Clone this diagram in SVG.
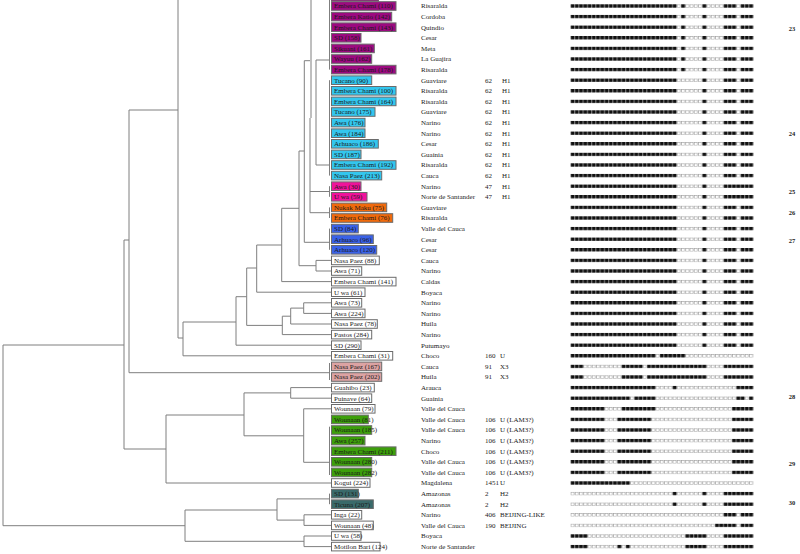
<svg xmlns="http://www.w3.org/2000/svg" width="800" height="554" viewBox="0 0 800 554">
<style>
.bg{fill:#fff}
.t path{fill:none;stroke:#7f7f7f;stroke-width:1}
.bx{stroke:#6b6b6b;stroke-width:1}
.mg{fill:#9c0a80}.cy{fill:#33c6ee}.pk{fill:#f0139b}.or{fill:#f06a0c}.bl{fill:#3a62e8}.lp{fill:#dca3a3}.gr{fill:#3d9f0b}.tl{fill:#3a6a6a}.wh{fill:#fff}
.lb{font-family:"Liberation Serif",serif;font-size:7px;fill:#1a1a1a}
.rg{font-family:"Liberation Serif",serif;font-size:7px;fill:#222}
.nm{font-family:"Liberation Serif",serif;font-size:6.5px;fill:#222;font-weight:bold}
.w{fill:url(#wp)}.b{fill:url(#bp)}
</style>
<defs>
<pattern id="wp" patternUnits="userSpaceOnUse" x="0" y="4.2" width="4.25" height="10.6"><rect x="0.5" y="0.3" width="3" height="3" fill="#fff" stroke="#9a9a9a" stroke-width="0.6"/></pattern>
<pattern id="bp" patternUnits="userSpaceOnUse" x="0" y="4.2" width="4.25" height="10.6"><rect x="0.2" y="0" width="3.6" height="3.6" fill="#111"/></pattern>
</defs>
<rect class="bg" width="800" height="554"/>
<g id="connectors" class="t">
<path d="M3,345V525.7M3,345H124M3,525.7H185"/>
<path d="M124,240V449M124,240H129M124,449H166"/>
<path d="M129,110V372.7M129,110H178M129,372.7H329.5"/>
<path d="M178,0V338M178,338H183"/>
<path d="M183,322V355.8M183,322H236M183,355.8H331"/>
<path d="M236,296.7V345.2M236,296.7H246.7M236,345.2H331"/>
<path d="M246.7,268V325.4M246.7,268H256.7M246.7,325.4H282.3"/>
<path d="M282.3,316.2V334.6M282.3,316.2H290.7M282.3,334.6H331"/>
<path d="M290.7,308.1V324M290.7,308.1H303.7M290.7,324H331"/>
<path d="M303.7,302.8V313.4M303.7,302.8H331M303.7,313.4H331"/>
<path d="M256.7,245V292.2M256.7,245H281.7M256.7,292.2H331"/>
<path d="M281.7,208.3V281.6M281.7,208.3H299M281.7,281.6H331"/>
<path d="M299,151V265.7M299,151H304.3M299,265.7H316"/>
<path d="M316,260.4V271M316,260.4H331M316,271H331"/>
<path d="M304.3,60.7V242.3M304.3,242.3H329.5M304.3,60.7H310"/>
<path d="M329.5,228.6V249.8"/>
<path d="M311,0V118M310,118V212.7M310,191.5H329.5M310,212.7H329.5"/>
<path d="M316,60V165M316,60H329.5M316,165H329.5"/>
<path d="M329.5,-5V69.6M329.5,80.2V175.6M329.5,186.2V196.8M329.5,207.4V218"/>
<path d="M329.5,363V380"/>
<path d="M166,415V483M166,415H244M166,483H331"/>
<path d="M244,392.9V435.8M244,392.9H290.7M244,435.8H303.7"/>
<path d="M290.7,387.6V398.2M290.7,387.6H331M290.7,398.2H331"/>
<path d="M303.7,408.8V462.3M303.7,408.8H331M303.7,462.3H329.5M329.5,426.7V475"/>
<path d="M185,510V541.3M185,510H277M185,541.3H304"/>
<path d="M277,498.9V520.1M277,498.9H329.5M277,520.1H304M329.5,493.6V504.2"/>
<path d="M304,514.8V525.4M304,514.8H331M304,525.4H331"/>
<path d="M304,536V546.6M304,536H331M304,546.6H331"/>
</g>
<g id="r0"><rect class="bx mg" x="331.5" y="-7.6" width="47" height="8.6"/></g>
<g id="r1"><rect class="bx mg" x="331.5" y="1.7" width="64.5" height="8.6"/><text class="lb" x="334" y="8.4">Embera Chami (110)</text><text class="rg" x="421" y="8.4">Risaralda</text><g transform="translate(570.6 0)"><rect class="w" x="0" y="4.2" width="182.75" height="3.6"/><rect class="b" x="0" y="4.2" width="106.25" height="3.6"/><rect class="b" x="110.5" y="4.2" width="4.25" height="3.6"/><rect class="b" x="131.75" y="4.2" width="4.25" height="3.6"/><rect class="b" x="153" y="4.2" width="12.75" height="3.6"/><rect class="b" x="170" y="4.2" width="12.75" height="3.6"/></g></g>
<g id="r2"><rect class="bx mg" x="331.5" y="12.3" width="60.2" height="8.6"/><text class="lb" x="334" y="19">Embera Katio (142)</text><text class="rg" x="421" y="19">Cordoba</text><g transform="translate(570.6 10.6)"><rect class="w" x="0" y="4.2" width="182.75" height="3.6"/><rect class="b" x="0" y="4.2" width="106.25" height="3.6"/><rect class="b" x="110.5" y="4.2" width="4.25" height="3.6"/><rect class="b" x="131.75" y="4.2" width="4.25" height="3.6"/><rect class="b" x="153" y="4.2" width="12.75" height="3.6"/><rect class="b" x="170" y="4.2" width="12.75" height="3.6"/></g></g>
<g id="r3"><rect class="bx mg" x="331.5" y="22.9" width="64.5" height="8.6"/><text class="lb" x="334" y="29.6">Embera Chami (143)</text><text class="rg" x="421" y="29.6">Quindio</text><g transform="translate(570.6 21.2)"><rect class="w" x="0" y="4.2" width="182.75" height="3.6"/><rect class="b" x="0" y="4.2" width="106.25" height="3.6"/><rect class="b" x="110.5" y="4.2" width="4.25" height="3.6"/><rect class="b" x="131.75" y="4.2" width="4.25" height="3.6"/><rect class="b" x="153" y="4.2" width="12.75" height="3.6"/><rect class="b" x="170" y="4.2" width="12.75" height="3.6"/></g></g>
<g id="r4"><rect class="bx mg" x="331.5" y="33.5" width="29.5" height="8.6"/><text class="lb" x="334" y="40.2">SD (158)</text><text class="rg" x="421" y="40.2">Cesar</text><g transform="translate(570.6 31.8)"><rect class="w" x="0" y="4.2" width="182.75" height="3.6"/><rect class="b" x="0" y="4.2" width="106.25" height="3.6"/><rect class="b" x="110.5" y="4.2" width="4.25" height="3.6"/><rect class="b" x="131.75" y="4.2" width="4.25" height="3.6"/><rect class="b" x="153" y="4.2" width="12.75" height="3.6"/><rect class="b" x="170" y="4.2" width="12.75" height="3.6"/></g></g>
<g id="r5"><rect class="bx mg" x="331.5" y="44.1" width="42.8" height="8.6"/><text class="lb" x="334" y="50.8">Sikuani (161)</text><text class="rg" x="421" y="50.8">Meta</text><g transform="translate(570.6 42.4)"><rect class="w" x="0" y="4.2" width="182.75" height="3.6"/><rect class="b" x="0" y="4.2" width="106.25" height="3.6"/><rect class="b" x="110.5" y="4.2" width="4.25" height="3.6"/><rect class="b" x="131.75" y="4.2" width="4.25" height="3.6"/><rect class="b" x="153" y="4.2" width="12.75" height="3.6"/><rect class="b" x="170" y="4.2" width="12.75" height="3.6"/></g></g>
<g id="r6"><rect class="bx mg" x="331.5" y="54.7" width="40.2" height="8.6"/><text class="lb" x="334" y="61.4">Wayuu (162)</text><text class="rg" x="421" y="61.4">La Guajira</text><g transform="translate(570.6 53)"><rect class="w" x="0" y="4.2" width="182.75" height="3.6"/><rect class="b" x="0" y="4.2" width="106.25" height="3.6"/><rect class="b" x="110.5" y="4.2" width="4.25" height="3.6"/><rect class="b" x="131.75" y="4.2" width="4.25" height="3.6"/><rect class="b" x="153" y="4.2" width="12.75" height="3.6"/><rect class="b" x="170" y="4.2" width="12.75" height="3.6"/></g></g>
<g id="r7"><rect class="bx mg" x="331.5" y="65.3" width="64.5" height="8.6"/><text class="lb" x="334" y="72">Embera Chami (178)</text><text class="rg" x="421" y="72">Risaralda</text><g transform="translate(570.6 63.6)"><rect class="w" x="0" y="4.2" width="182.75" height="3.6"/><rect class="b" x="0" y="4.2" width="106.25" height="3.6"/><rect class="b" x="110.5" y="4.2" width="4.25" height="3.6"/><rect class="b" x="131.75" y="4.2" width="4.25" height="3.6"/><rect class="b" x="153" y="4.2" width="12.75" height="3.6"/><rect class="b" x="170" y="4.2" width="12.75" height="3.6"/></g></g>
<g id="r8"><rect class="bx cy" x="331.5" y="75.9" width="40.2" height="8.6"/><text class="lb" x="334" y="82.6">Tucano (90)</text><text class="rg" x="421" y="82.6">Guaviare</text><text class="rg" x="485" y="82.6">62</text><text class="rg" x="502" y="82.6">H1</text><g transform="translate(570.6 74.2)"><rect class="w" x="0" y="4.2" width="182.75" height="3.6"/><rect class="b" x="0" y="4.2" width="106.25" height="3.6"/><rect class="b" x="131.75" y="4.2" width="4.25" height="3.6"/><rect class="b" x="153" y="4.2" width="12.75" height="3.6"/><rect class="b" x="170" y="4.2" width="12.75" height="3.6"/></g></g>
<g id="r9"><rect class="bx cy" x="331.5" y="86.5" width="64.5" height="8.6"/><text class="lb" x="334" y="93.2">Embera Chami (100)</text><text class="rg" x="421" y="93.2">Risaralda</text><text class="rg" x="485" y="93.2">62</text><text class="rg" x="502" y="93.2">H1</text><g transform="translate(570.6 84.8)"><rect class="w" x="0" y="4.2" width="182.75" height="3.6"/><rect class="b" x="0" y="4.2" width="106.25" height="3.6"/><rect class="b" x="131.75" y="4.2" width="4.25" height="3.6"/><rect class="b" x="153" y="4.2" width="12.75" height="3.6"/><rect class="b" x="170" y="4.2" width="12.75" height="3.6"/></g></g>
<g id="r10"><rect class="bx cy" x="331.5" y="97.1" width="64.5" height="8.6"/><text class="lb" x="334" y="103.8">Embera Chami (164)</text><text class="rg" x="421" y="103.8">Risaralda</text><text class="rg" x="485" y="103.8">62</text><text class="rg" x="502" y="103.8">H1</text><g transform="translate(570.6 95.4)"><rect class="w" x="0" y="4.2" width="182.75" height="3.6"/><rect class="b" x="0" y="4.2" width="106.25" height="3.6"/><rect class="b" x="131.75" y="4.2" width="4.25" height="3.6"/><rect class="b" x="153" y="4.2" width="12.75" height="3.6"/><rect class="b" x="170" y="4.2" width="12.75" height="3.6"/></g></g>
<g id="r11"><rect class="bx cy" x="331.5" y="107.7" width="43.5" height="8.6"/><text class="lb" x="334" y="114.4">Tucano (175)</text><text class="rg" x="421" y="114.4">Guaviare</text><text class="rg" x="485" y="114.4">62</text><text class="rg" x="502" y="114.4">H1</text><g transform="translate(570.6 106)"><rect class="w" x="0" y="4.2" width="182.75" height="3.6"/><rect class="b" x="0" y="4.2" width="106.25" height="3.6"/><rect class="b" x="131.75" y="4.2" width="4.25" height="3.6"/><rect class="b" x="153" y="4.2" width="12.75" height="3.6"/><rect class="b" x="170" y="4.2" width="12.75" height="3.6"/></g></g>
<g id="r12"><rect class="bx cy" x="331.5" y="118.3" width="33.5" height="8.6"/><text class="lb" x="334" y="125">Awa (176)</text><text class="rg" x="421" y="125">Narino</text><text class="rg" x="485" y="125">62</text><text class="rg" x="502" y="125">H1</text><g transform="translate(570.6 116.6)"><rect class="w" x="0" y="4.2" width="182.75" height="3.6"/><rect class="b" x="0" y="4.2" width="106.25" height="3.6"/><rect class="b" x="131.75" y="4.2" width="4.25" height="3.6"/><rect class="b" x="153" y="4.2" width="12.75" height="3.6"/><rect class="b" x="170" y="4.2" width="12.75" height="3.6"/></g></g>
<g id="r13"><rect class="bx cy" x="331.5" y="128.9" width="33.5" height="8.6"/><text class="lb" x="334" y="135.6">Awa (184)</text><text class="rg" x="421" y="135.6">Narino</text><text class="rg" x="485" y="135.6">62</text><text class="rg" x="502" y="135.6">H1</text><g transform="translate(570.6 127.2)"><rect class="w" x="0" y="4.2" width="182.75" height="3.6"/><rect class="b" x="0" y="4.2" width="106.25" height="3.6"/><rect class="b" x="131.75" y="4.2" width="4.25" height="3.6"/><rect class="b" x="153" y="4.2" width="12.75" height="3.6"/><rect class="b" x="170" y="4.2" width="12.75" height="3.6"/></g></g>
<g id="r14"><rect class="bx cy" x="331.5" y="139.5" width="46.8" height="8.6"/><text class="lb" x="334" y="146.2">Arhuaco (186)</text><text class="rg" x="421" y="146.2">Cesar</text><text class="rg" x="485" y="146.2">62</text><text class="rg" x="502" y="146.2">H1</text><g transform="translate(570.6 137.8)"><rect class="w" x="0" y="4.2" width="182.75" height="3.6"/><rect class="b" x="0" y="4.2" width="106.25" height="3.6"/><rect class="b" x="131.75" y="4.2" width="4.25" height="3.6"/><rect class="b" x="153" y="4.2" width="12.75" height="3.6"/><rect class="b" x="170" y="4.2" width="12.75" height="3.6"/></g></g>
<g id="r15"><rect class="bx cy" x="331.5" y="150.1" width="29.5" height="8.6"/><text class="lb" x="334" y="156.8">SD (187)</text><text class="rg" x="421" y="156.8">Guainia</text><text class="rg" x="485" y="156.8">62</text><text class="rg" x="502" y="156.8">H1</text><g transform="translate(570.6 148.4)"><rect class="w" x="0" y="4.2" width="182.75" height="3.6"/><rect class="b" x="0" y="4.2" width="106.25" height="3.6"/><rect class="b" x="131.75" y="4.2" width="4.25" height="3.6"/><rect class="b" x="153" y="4.2" width="12.75" height="3.6"/><rect class="b" x="170" y="4.2" width="12.75" height="3.6"/></g></g>
<g id="r16"><rect class="bx cy" x="331.5" y="160.7" width="64.5" height="8.6"/><text class="lb" x="334" y="167.4">Embera Chami (192)</text><text class="rg" x="421" y="167.4">Risaralda</text><text class="rg" x="485" y="167.4">62</text><text class="rg" x="502" y="167.4">H1</text><g transform="translate(570.6 159)"><rect class="w" x="0" y="4.2" width="182.75" height="3.6"/><rect class="b" x="0" y="4.2" width="106.25" height="3.6"/><rect class="b" x="131.75" y="4.2" width="4.25" height="3.6"/><rect class="b" x="153" y="4.2" width="12.75" height="3.6"/><rect class="b" x="170" y="4.2" width="12.75" height="3.6"/></g></g>
<g id="r17"><rect class="bx cy" x="331.5" y="171.3" width="50.2" height="8.6"/><text class="lb" x="334" y="178">Nasa Paez (213)</text><text class="rg" x="421" y="178">Cauca</text><text class="rg" x="485" y="178">62</text><text class="rg" x="502" y="178">H1</text><g transform="translate(570.6 169.6)"><rect class="w" x="0" y="4.2" width="182.75" height="3.6"/><rect class="b" x="0" y="4.2" width="106.25" height="3.6"/><rect class="b" x="131.75" y="4.2" width="4.25" height="3.6"/><rect class="b" x="153" y="4.2" width="12.75" height="3.6"/><rect class="b" x="170" y="4.2" width="12.75" height="3.6"/></g></g>
<g id="r18"><rect class="bx pk" x="331.5" y="181.9" width="29.5" height="8.6"/><text class="lb" x="334" y="188.6">Awa (30)</text><text class="rg" x="421" y="188.6">Narino</text><text class="rg" x="485" y="188.6">47</text><text class="rg" x="502" y="188.6">H1</text><g transform="translate(570.6 180.2)"><rect class="w" x="0" y="4.2" width="182.75" height="3.6"/><rect class="b" x="0" y="4.2" width="106.25" height="3.6"/><rect class="b" x="131.75" y="4.2" width="4.25" height="3.6"/><rect class="b" x="153" y="4.2" width="29.75" height="3.6"/></g></g>
<g id="r19"><rect class="bx pk" x="331.5" y="192.5" width="35.5" height="8.6"/><text class="lb" x="334" y="199.2">U wa (59)</text><text class="rg" x="421" y="199.2">Norte de Santander</text><text class="rg" x="485" y="199.2">47</text><text class="rg" x="502" y="199.2">H1</text><g transform="translate(570.6 190.8)"><rect class="w" x="0" y="4.2" width="182.75" height="3.6"/><rect class="b" x="0" y="4.2" width="106.25" height="3.6"/><rect class="b" x="131.75" y="4.2" width="4.25" height="3.6"/><rect class="b" x="153" y="4.2" width="29.75" height="3.6"/></g></g>
<g id="r20"><rect class="bx or" x="331.5" y="203.1" width="55.2" height="8.6"/><text class="lb" x="334" y="209.8">Nukak Maku (75)</text><text class="rg" x="421" y="209.8">Guaviare</text><g transform="translate(570.6 201.4)"><rect class="w" x="0" y="4.2" width="182.75" height="3.6"/><rect class="b" x="0" y="4.2" width="106.25" height="3.6"/><rect class="b" x="131.75" y="4.2" width="4.25" height="3.6"/><rect class="b" x="153" y="4.2" width="12.75" height="3.6"/><rect class="b" x="170" y="4.2" width="12.75" height="3.6"/></g></g>
<g id="r21"><rect class="bx or" x="331.5" y="213.7" width="61.2" height="8.6"/><text class="lb" x="334" y="220.4">Embera Chami (76)</text><text class="rg" x="421" y="220.4">Risaralda</text><g transform="translate(570.6 212)"><rect class="w" x="0" y="4.2" width="182.75" height="3.6"/><rect class="b" x="0" y="4.2" width="106.25" height="3.6"/><rect class="b" x="131.75" y="4.2" width="4.25" height="3.6"/><rect class="b" x="153" y="4.2" width="12.75" height="3.6"/><rect class="b" x="170" y="4.2" width="12.75" height="3.6"/></g></g>
<g id="r22"><rect class="bx bl" x="331.5" y="224.3" width="26.8" height="8.6"/><text class="lb" x="334" y="231">SD (84)</text><text class="rg" x="421" y="231">Valle del Cauca</text><g transform="translate(570.6 222.6)"><rect class="w" x="0" y="4.2" width="182.75" height="3.6"/><rect class="b" x="0" y="4.2" width="106.25" height="3.6"/><rect class="b" x="131.75" y="4.2" width="4.25" height="3.6"/><rect class="b" x="153" y="4.2" width="12.75" height="3.6"/><rect class="b" x="170" y="4.2" width="12.75" height="3.6"/></g></g>
<g id="r23"><rect class="bx bl" x="331.5" y="234.9" width="41.8" height="8.6"/><text class="lb" x="334" y="241.6">Arhuaco (96)</text><text class="rg" x="421" y="241.6">Cesar</text><g transform="translate(570.6 233.2)"><rect class="w" x="0" y="4.2" width="182.75" height="3.6"/><rect class="b" x="0" y="4.2" width="106.25" height="3.6"/><rect class="b" x="131.75" y="4.2" width="4.25" height="3.6"/><rect class="b" x="153" y="4.2" width="12.75" height="3.6"/><rect class="b" x="170" y="4.2" width="12.75" height="3.6"/></g></g>
<g id="r24"><rect class="bx bl" x="331.5" y="245.5" width="45.2" height="8.6"/><text class="lb" x="334" y="252.2">Arhuaco (120)</text><text class="rg" x="421" y="252.2">Cesar</text><g transform="translate(570.6 243.8)"><rect class="w" x="0" y="4.2" width="182.75" height="3.6"/><rect class="b" x="0" y="4.2" width="106.25" height="3.6"/><rect class="b" x="131.75" y="4.2" width="4.25" height="3.6"/><rect class="b" x="153" y="4.2" width="12.75" height="3.6"/><rect class="b" x="170" y="4.2" width="12.75" height="3.6"/></g></g>
<g id="r25"><rect class="bx wh" x="331.5" y="256.1" width="47.8" height="8.6"/><text class="lb" x="334" y="262.8">Nasa Paez (88)</text><text class="rg" x="421" y="262.8">Cauca</text><g transform="translate(570.6 254.4)"><rect class="w" x="0" y="4.2" width="182.75" height="3.6"/><rect class="b" x="0" y="4.2" width="106.25" height="3.6"/><rect class="b" x="131.75" y="4.2" width="4.25" height="3.6"/><rect class="b" x="153" y="4.2" width="12.75" height="3.6"/><rect class="b" x="170" y="4.2" width="12.75" height="3.6"/></g></g>
<g id="r26"><rect class="bx wh" x="331.5" y="266.7" width="30.2" height="8.6"/><text class="lb" x="334" y="273.4">Awa (71)</text><text class="rg" x="421" y="273.4">Narino</text><g transform="translate(570.6 265)"><rect class="w" x="0" y="4.2" width="182.75" height="3.6"/><rect class="b" x="0" y="4.2" width="106.25" height="3.6"/><rect class="b" x="131.75" y="4.2" width="4.25" height="3.6"/><rect class="b" x="153" y="4.2" width="12.75" height="3.6"/><rect class="b" x="170" y="4.2" width="12.75" height="3.6"/></g></g>
<g id="r27"><rect class="bx wh" x="331.5" y="277.3" width="64.5" height="8.6"/><text class="lb" x="334" y="284">Embera Chami (141)</text><text class="rg" x="421" y="284">Caldas</text><g transform="translate(570.6 275.6)"><rect class="w" x="0" y="4.2" width="182.75" height="3.6"/><rect class="b" x="0" y="4.2" width="106.25" height="3.6"/><rect class="b" x="131.75" y="4.2" width="4.25" height="3.6"/><rect class="b" x="153" y="4.2" width="12.75" height="3.6"/><rect class="b" x="170" y="4.2" width="12.75" height="3.6"/></g></g>
<g id="r28"><rect class="bx wh" x="331.5" y="287.9" width="33.5" height="8.6"/><text class="lb" x="334" y="294.6">U wa (61)</text><text class="rg" x="421" y="294.6">Boyaca</text><g transform="translate(570.6 286.2)"><rect class="w" x="0" y="4.2" width="182.75" height="3.6"/><rect class="b" x="0" y="4.2" width="106.25" height="3.6"/><rect class="b" x="131.75" y="4.2" width="4.25" height="3.6"/><rect class="b" x="153" y="4.2" width="12.75" height="3.6"/><rect class="b" x="170" y="4.2" width="12.75" height="3.6"/></g></g>
<g id="r29"><rect class="bx wh" x="331.5" y="298.5" width="30.2" height="8.6"/><text class="lb" x="334" y="305.2">Awa (73)</text><text class="rg" x="421" y="305.2">Narino</text><g transform="translate(570.6 296.8)"><rect class="w" x="0" y="4.2" width="182.75" height="3.6"/><rect class="b" x="0" y="4.2" width="106.25" height="3.6"/><rect class="b" x="131.75" y="4.2" width="4.25" height="3.6"/><rect class="b" x="153" y="4.2" width="12.75" height="3.6"/><rect class="b" x="170" y="4.2" width="12.75" height="3.6"/></g></g>
<g id="r30"><rect class="bx wh" x="331.5" y="309.1" width="33.5" height="8.6"/><text class="lb" x="334" y="315.8">Awa (224)</text><text class="rg" x="421" y="315.8">Narino</text><g transform="translate(570.6 307.4)"><rect class="w" x="0" y="4.2" width="182.75" height="3.6"/><rect class="b" x="0" y="4.2" width="106.25" height="3.6"/><rect class="b" x="131.75" y="4.2" width="4.25" height="3.6"/><rect class="b" x="153" y="4.2" width="12.75" height="3.6"/><rect class="b" x="170" y="4.2" width="12.75" height="3.6"/></g></g>
<g id="r31"><rect class="bx wh" x="331.5" y="319.7" width="45.8" height="8.6"/><text class="lb" x="334" y="326.4">Nasa Paez (78)</text><text class="rg" x="421" y="326.4">Huila</text><g transform="translate(570.6 318)"><rect class="w" x="0" y="4.2" width="182.75" height="3.6"/><rect class="b" x="0" y="4.2" width="106.25" height="3.6"/><rect class="b" x="131.75" y="4.2" width="4.25" height="3.6"/><rect class="b" x="153" y="4.2" width="12.75" height="3.6"/><rect class="b" x="170" y="4.2" width="12.75" height="3.6"/></g></g>
<g id="r32"><rect class="bx wh" x="331.5" y="330.3" width="40.2" height="8.6"/><text class="lb" x="334" y="337">Pastos (284)</text><text class="rg" x="421" y="337">Narino</text><g transform="translate(570.6 328.6)"><rect class="w" x="0" y="4.2" width="182.75" height="3.6"/><rect class="b" x="0" y="4.2" width="106.25" height="3.6"/><rect class="b" x="131.75" y="4.2" width="4.25" height="3.6"/><rect class="b" x="153" y="4.2" width="12.75" height="3.6"/><rect class="b" x="170" y="4.2" width="12.75" height="3.6"/></g></g>
<g id="r33"><rect class="bx wh" x="331.5" y="340.9" width="29.5" height="8.6"/><text class="lb" x="334" y="347.6">SD (290)</text><text class="rg" x="421" y="347.6">Putumayo</text><g transform="translate(570.6 339.2)"><rect class="w" x="0" y="4.2" width="182.75" height="3.6"/><rect class="b" x="0" y="4.2" width="106.25" height="3.6"/><rect class="b" x="131.75" y="4.2" width="4.25" height="3.6"/><rect class="b" x="153" y="4.2" width="12.75" height="3.6"/><rect class="b" x="170" y="4.2" width="12.75" height="3.6"/></g></g>
<g id="r34"><rect class="bx wh" x="331.5" y="351.5" width="61.2" height="8.6"/><text class="lb" x="334" y="358.2">Embera Chami (31)</text><text class="rg" x="421" y="358.2">Choco</text><text class="rg" x="485" y="358.2">160</text><text class="rg" x="500" y="358.2">U</text><g transform="translate(570.6 349.8)"><rect class="w" x="0" y="4.2" width="182.75" height="3.6"/><rect class="b" x="0" y="4.2" width="85" height="3.6"/><rect class="b" x="89.25" y="4.2" width="25.5" height="3.6"/></g></g>
<g id="r35"><rect class="bx lp" x="331.5" y="362.1" width="50.2" height="8.6"/><text class="lb" x="334" y="368.8">Nasa Paez (167)</text><text class="rg" x="421" y="368.8">Cauca</text><text class="rg" x="485" y="368.8">91</text><text class="rg" x="500" y="368.8">X3</text><g transform="translate(570.6 360.4)"><rect class="w" x="0" y="4.2" width="182.75" height="3.6"/><rect class="b" x="0" y="4.2" width="12.75" height="3.6"/><rect class="b" x="51" y="4.2" width="21.25" height="3.6"/><rect class="b" x="76.5" y="4.2" width="59.5" height="3.6"/><rect class="b" x="153" y="4.2" width="29.75" height="3.6"/></g></g>
<g id="r36"><rect class="bx lp" x="331.5" y="372.7" width="50.2" height="8.6"/><text class="lb" x="334" y="379.4">Nasa Paez (202)</text><text class="rg" x="421" y="379.4">Huila</text><text class="rg" x="485" y="379.4">91</text><text class="rg" x="500" y="379.4">X3</text><g transform="translate(570.6 371)"><rect class="w" x="0" y="4.2" width="182.75" height="3.6"/><rect class="b" x="0" y="4.2" width="12.75" height="3.6"/><rect class="b" x="51" y="4.2" width="21.25" height="3.6"/><rect class="b" x="76.5" y="4.2" width="59.5" height="3.6"/><rect class="b" x="153" y="4.2" width="29.75" height="3.6"/></g></g>
<g id="r37"><rect class="bx wh" x="331.5" y="383.3" width="42.8" height="8.6"/><text class="lb" x="334" y="390">Guahibo (23)</text><text class="rg" x="421" y="390">Arauca</text><g transform="translate(570.6 381.6)"><rect class="w" x="0" y="4.2" width="182.75" height="3.6"/><rect class="b" x="0" y="4.2" width="85" height="3.6"/><rect class="b" x="102" y="4.2" width="4.25" height="3.6"/><rect class="b" x="165.75" y="4.2" width="17" height="3.6"/></g></g>
<g id="r38"><rect class="bx wh" x="331.5" y="393.9" width="40.2" height="8.6"/><text class="lb" x="334" y="400.6">Puinave (64)</text><text class="rg" x="421" y="400.6">Guainia</text><g transform="translate(570.6 392.2)"><rect class="w" x="0" y="4.2" width="182.75" height="3.6"/><rect class="b" x="0" y="4.2" width="59.5" height="3.6"/><rect class="b" x="63.75" y="4.2" width="21.25" height="3.6"/><rect class="b" x="165.75" y="4.2" width="8.5" height="3.6"/><rect class="b" x="178.5" y="4.2" width="4.25" height="3.6"/></g></g>
<g id="r39"><rect class="bx wh" x="331.5" y="404.5" width="43.5" height="8.6"/><text class="lb" x="334" y="411.2">Wounaan (79)</text><text class="rg" x="421" y="411.2">Valle del Cauca</text><g transform="translate(570.6 402.8)"><rect class="w" x="0" y="4.2" width="182.75" height="3.6"/><rect class="b" x="0" y="4.2" width="34" height="3.6"/><rect class="b" x="51" y="4.2" width="34" height="3.6"/><rect class="b" x="161.5" y="4.2" width="21.25" height="3.6"/></g></g>
<g id="r40"><rect class="bx gr" x="331.5" y="415.1" width="36.8" height="8.6"/><text class="lb" x="334" y="421.8">Wounaan (81)</text><text class="rg" x="421" y="421.8">Valle del Cauca</text><text class="rg" x="485" y="421.8">106</text><text class="rg" x="500" y="421.8">U (LAM3?)</text><g transform="translate(570.6 413.4)"><rect class="w" x="0" y="4.2" width="182.75" height="3.6"/><rect class="b" x="0" y="4.2" width="34" height="3.6"/><rect class="b" x="46.75" y="4.2" width="34" height="3.6"/><rect class="b" x="161.5" y="4.2" width="21.25" height="3.6"/></g></g>
<g id="r41"><rect class="bx gr" x="331.5" y="425.7" width="40.2" height="8.6"/><text class="lb" x="334" y="432.4">Wounaan (185)</text><text class="rg" x="421" y="432.4">Valle del Cauca</text><text class="rg" x="485" y="432.4">106</text><text class="rg" x="500" y="432.4">U (LAM3?)</text><g transform="translate(570.6 424)"><rect class="w" x="0" y="4.2" width="182.75" height="3.6"/><rect class="b" x="0" y="4.2" width="34" height="3.6"/><rect class="b" x="46.75" y="4.2" width="34" height="3.6"/><rect class="b" x="161.5" y="4.2" width="21.25" height="3.6"/></g></g>
<g id="r42"><rect class="bx gr" x="331.5" y="436.3" width="33.5" height="8.6"/><text class="lb" x="334" y="443">Awa (257)</text><text class="rg" x="421" y="443">Narino</text><text class="rg" x="485" y="443">106</text><text class="rg" x="500" y="443">U (LAM3?)</text><g transform="translate(570.6 434.6)"><rect class="w" x="0" y="4.2" width="182.75" height="3.6"/><rect class="b" x="0" y="4.2" width="34" height="3.6"/><rect class="b" x="46.75" y="4.2" width="34" height="3.6"/><rect class="b" x="161.5" y="4.2" width="21.25" height="3.6"/></g></g>
<g id="r43"><rect class="bx gr" x="331.5" y="446.9" width="64.5" height="8.6"/><text class="lb" x="334" y="453.6">Embera Chami (211)</text><text class="rg" x="421" y="453.6">Choco</text><text class="rg" x="485" y="453.6">106</text><text class="rg" x="500" y="453.6">U (LAM3?)</text><g transform="translate(570.6 445.2)"><rect class="w" x="0" y="4.2" width="182.75" height="3.6"/><rect class="b" x="0" y="4.2" width="34" height="3.6"/><rect class="b" x="46.75" y="4.2" width="34" height="3.6"/><rect class="b" x="161.5" y="4.2" width="21.25" height="3.6"/></g></g>
<g id="r44"><rect class="bx gr" x="331.5" y="457.5" width="40.2" height="8.6"/><text class="lb" x="334" y="464.2">Wounaan (280)</text><text class="rg" x="421" y="464.2">Valle del Cauca</text><text class="rg" x="485" y="464.2">106</text><text class="rg" x="500" y="464.2">U (LAM3?)</text><g transform="translate(570.6 455.8)"><rect class="w" x="0" y="4.2" width="182.75" height="3.6"/><rect class="b" x="0" y="4.2" width="34" height="3.6"/><rect class="b" x="46.75" y="4.2" width="34" height="3.6"/><rect class="b" x="161.5" y="4.2" width="21.25" height="3.6"/></g></g>
<g id="r45"><rect class="bx gr" x="331.5" y="468.1" width="40.2" height="8.6"/><text class="lb" x="334" y="474.8">Wounaan (282)</text><text class="rg" x="421" y="474.8">Valle del Cauca</text><text class="rg" x="485" y="474.8">106</text><text class="rg" x="500" y="474.8">U (LAM3?)</text><g transform="translate(570.6 466.4)"><rect class="w" x="0" y="4.2" width="182.75" height="3.6"/><rect class="b" x="0" y="4.2" width="34" height="3.6"/><rect class="b" x="46.75" y="4.2" width="34" height="3.6"/><rect class="b" x="161.5" y="4.2" width="21.25" height="3.6"/></g></g>
<g id="r46"><rect class="bx wh" x="331.5" y="478.7" width="38.5" height="8.6"/><text class="lb" x="334" y="485.4">Kogui (224)</text><text class="rg" x="421" y="485.4">Magdalena</text><text class="rg" x="485" y="485.4">1451</text><text class="rg" x="500" y="485.4">U</text><g transform="translate(570.6 477)"><rect class="w" x="0" y="4.2" width="182.75" height="3.6"/><rect class="b" x="0" y="4.2" width="59.5" height="3.6"/></g></g>
<g id="r47"><rect class="bx tl" x="331.5" y="489.3" width="26.8" height="8.6"/><text class="lb" x="334" y="496">SD (131)</text><text class="rg" x="421" y="496">Amazonas</text><text class="rg" x="485" y="496">2</text><text class="rg" x="500" y="496">H2</text><g transform="translate(570.6 487.6)"><rect class="w" x="0" y="4.2" width="182.75" height="3.6"/><rect class="b" x="102" y="4.2" width="4.25" height="3.6"/><rect class="b" x="131.75" y="4.2" width="4.25" height="3.6"/><rect class="b" x="153" y="4.2" width="29.75" height="3.6"/></g></g>
<g id="r48"><rect class="bx tl" x="331.5" y="499.9" width="41.8" height="8.6"/><text class="lb" x="334" y="506.6">Ticuna (207)</text><text class="rg" x="421" y="506.6">Amazonas</text><text class="rg" x="485" y="506.6">2</text><text class="rg" x="500" y="506.6">H2</text><g transform="translate(570.6 498.2)"><rect class="w" x="0" y="4.2" width="182.75" height="3.6"/><rect class="b" x="102" y="4.2" width="4.25" height="3.6"/><rect class="b" x="131.75" y="4.2" width="4.25" height="3.6"/><rect class="b" x="153" y="4.2" width="29.75" height="3.6"/></g></g>
<g id="r49"><rect class="bx wh" x="331.5" y="510.5" width="30.2" height="8.6"/><text class="lb" x="334" y="517.2">Inga (22)</text><text class="rg" x="421" y="517.2">Narino</text><text class="rg" x="485" y="517.2">406</text><text class="rg" x="500" y="517.2">BEIJING-LIKE</text><g transform="translate(570.6 508.8)"><rect class="w" x="0" y="4.2" width="182.75" height="3.6"/><rect class="b" x="153" y="4.2" width="12.75" height="3.6"/><rect class="b" x="170" y="4.2" width="12.75" height="3.6"/></g></g>
<g id="r50"><rect class="bx wh" x="331.5" y="521.1" width="41.8" height="8.6"/><text class="lb" x="334" y="527.8">Wounaan (48)</text><text class="rg" x="421" y="527.8">Valle del Cauca</text><text class="rg" x="485" y="527.8">190</text><text class="rg" x="500" y="527.8">BEIJING</text><g transform="translate(570.6 519.4)"><rect class="w" x="0" y="4.2" width="182.75" height="3.6"/><rect class="b" x="144.5" y="4.2" width="21.25" height="3.6"/><rect class="b" x="170" y="4.2" width="12.75" height="3.6"/></g></g>
<g id="r51"><rect class="bx wh" x="331.5" y="531.7" width="29.5" height="8.6"/><text class="lb" x="334" y="538.4">U wa (58)</text><text class="rg" x="421" y="538.4">Boyaca</text><g transform="translate(570.6 530)"><rect class="w" x="0" y="4.2" width="182.75" height="3.6"/><rect class="b" x="0" y="4.2" width="17" height="3.6"/><rect class="b" x="114.75" y="4.2" width="21.25" height="3.6"/><rect class="b" x="153" y="4.2" width="29.75" height="3.6"/></g></g>
<g id="r52"><rect class="bx wh" x="331.5" y="542.3" width="48.5" height="8.6"/><text class="lb" x="334" y="549">Motilon Bari (124)</text><text class="rg" x="421" y="549">Norte de Santander</text><g transform="translate(570.6 540.6)"><rect class="w" x="0" y="4.2" width="182.75" height="3.6"/><rect class="b" x="0" y="4.2" width="17" height="3.6"/><rect class="b" x="46.75" y="4.2" width="4.25" height="3.6"/><rect class="b" x="55.25" y="4.2" width="4.25" height="3.6"/><rect class="b" x="114.75" y="4.2" width="21.25" height="3.6"/><rect class="b" x="153" y="4.2" width="29.75" height="3.6"/></g></g>
<g id="clusters">
<text class="nm" x="792" y="31" text-anchor="middle">23</text>
<text class="nm" x="792" y="136" text-anchor="middle">24</text>
<text class="nm" x="792" y="194" text-anchor="middle">25</text>
<text class="nm" x="792" y="215" text-anchor="middle">26</text>
<text class="nm" x="792" y="243" text-anchor="middle">27</text>
<text class="nm" x="792" y="399" text-anchor="middle">28</text>
<text class="nm" x="792" y="466" text-anchor="middle">29</text>
<text class="nm" x="792" y="505" text-anchor="middle">30</text>
</g>
</svg>
